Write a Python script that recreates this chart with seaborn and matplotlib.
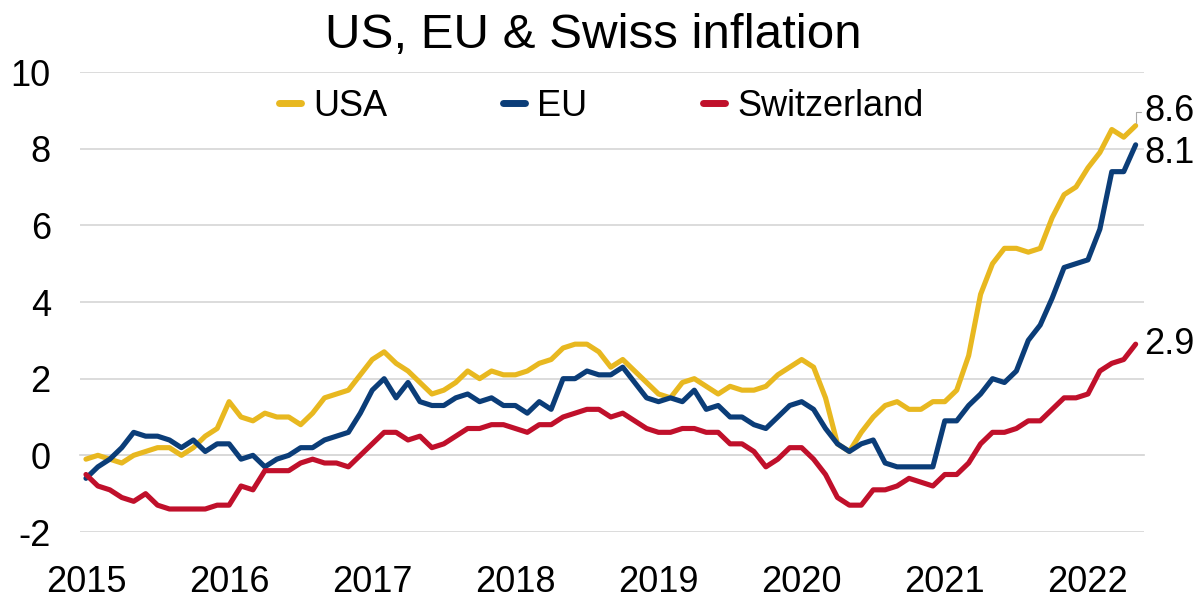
import numpy as np
import pandas as pd
import matplotlib
matplotlib.use("Agg")
import matplotlib.pyplot as plt
from matplotlib.lines import Line2D
import seaborn as sns

# ---------------- data ----------------
months = pd.date_range("2015-01-01", "2022-05-01", freq="MS")

usa = [-0.1, 0.0, -0.1, -0.2, 0.0, 0.1, 0.2, 0.2, 0.0, 0.2, 0.5, 0.7,
       1.4, 1.0, 0.9, 1.1, 1.0, 1.0, 0.8, 1.1, 1.5, 1.6, 1.7, 2.1,
       2.5, 2.7, 2.4, 2.2, 1.9, 1.6, 1.7, 1.9, 2.2, 2.0, 2.2, 2.1,
       2.1, 2.2, 2.4, 2.5, 2.8, 2.9, 2.9, 2.7, 2.3, 2.5, 2.2, 1.9,
       1.6, 1.5, 1.9, 2.0, 1.8, 1.6, 1.8, 1.7, 1.7, 1.8, 2.1, 2.3,
       2.5, 2.3, 1.5, 0.3, 0.1, 0.6, 1.0, 1.3, 1.4, 1.2, 1.2, 1.4,
       1.4, 1.7, 2.6, 4.2, 5.0, 5.4, 5.4, 5.3, 5.4, 6.2, 6.8, 7.0,
       7.5, 7.9, 8.5, 8.3, 8.6]

eu = [-0.6, -0.3, -0.1, 0.2, 0.6, 0.5, 0.5, 0.4, 0.2, 0.4, 0.1, 0.3,
      0.3, -0.1, 0.0, -0.3, -0.1, 0.0, 0.2, 0.2, 0.4, 0.5, 0.6, 1.1,
      1.7, 2.0, 1.5, 1.9, 1.4, 1.3, 1.3, 1.5, 1.6, 1.4, 1.5, 1.3,
      1.3, 1.1, 1.4, 1.2, 2.0, 2.0, 2.2, 2.1, 2.1, 2.3, 1.9, 1.5,
      1.4, 1.5, 1.4, 1.7, 1.2, 1.3, 1.0, 1.0, 0.8, 0.7, 1.0, 1.3,
      1.4, 1.2, 0.7, 0.3, 0.1, 0.3, 0.4, -0.2, -0.3, -0.3, -0.3, -0.3,
      0.9, 0.9, 1.3, 1.6, 2.0, 1.9, 2.2, 3.0, 3.4, 4.1, 4.9, 5.0,
      5.1, 5.9, 7.4, 7.4, 8.1]

swiss = [-0.5, -0.8, -0.9, -1.1, -1.2, -1.0, -1.3, -1.4, -1.4, -1.4, -1.4, -1.3,
         -1.3, -0.8, -0.9, -0.4, -0.4, -0.4, -0.2, -0.1, -0.2, -0.2, -0.3, 0.0,
         0.3, 0.6, 0.6, 0.4, 0.5, 0.2, 0.3, 0.5, 0.7, 0.7, 0.8, 0.8,
         0.7, 0.6, 0.8, 0.8, 1.0, 1.1, 1.2, 1.2, 1.0, 1.1, 0.9, 0.7,
         0.6, 0.6, 0.7, 0.7, 0.6, 0.6, 0.3, 0.3, 0.1, -0.3, -0.1, 0.2,
         0.2, -0.1, -0.5, -1.1, -1.3, -1.3, -0.9, -0.9, -0.8, -0.6, -0.7, -0.8,
         -0.5, -0.5, -0.2, 0.3, 0.6, 0.6, 0.7, 0.9, 0.9, 1.2, 1.5, 1.5,
         1.6, 2.2, 2.4, 2.5, 2.9]

series_names = ["USA", "EU", "Switzerland"]
year_labels = ["2015", "2016", "2017", "2018", "2019", "2020", "2021", "2022"]
y_ticks = [-2, 0, 2, 4, 6, 8, 10]
title = "US, EU & Swiss inflation"

# ---------------- styling ----------------
sns.set_theme(style="white")
plt.rcParams["font.family"] = ["Liberation Sans", "DejaVu Sans"]
plt.rcParams["axes.unicode_minus"] = False
plt.rcParams["text.color"] = "black"
plt.rcParams["xtick.labelcolor"] = "black"
plt.rcParams["ytick.labelcolor"] = "black"

colors = {"USA": "#E8B820", "EU": "#0B3D78", "Switzerland": "#C0102B"}
grid_color = "#d9d9d9"
fs = 26

idx = np.arange(len(months))
df = pd.DataFrame({"month": idx, "USA": usa, "EU": eu, "Switzerland": swiss})
long = df.melt(id_vars="month", var_name="series", value_name="value")

fig = plt.figure(figsize=(12, 6.03), dpi=100)
ax = fig.add_axes([80 / 1200, 1 - 532 / 603, 1064 / 1200, 460 / 603])

sns.lineplot(data=long, x="month", y="value", hue="series",
             hue_order=series_names, palette=colors, linewidth=3.7,
             ax=ax, legend=False, zorder=3)

# axes limits / grid
ax.set_xlim(-0.42, len(idx) - 1 + 0.7)
ax.set_ylim(min(y_ticks), max(y_ticks))
ax.set_yticks(y_ticks)
ax.set_yticklabels([str(t) for t in y_ticks], fontsize=fs, color="black")
ax.tick_params(axis="y", length=0, pad=21)
ax.yaxis.grid(True, color=grid_color, linewidth=1.3, zorder=0)
ax.xaxis.grid(False)
for s in ["left", "top", "right"]:
    ax.spines[s].set_visible(False)

# x axis line at zero with year boundary ticks
year_starts = [i for i, m in enumerate(months) if m.month == 1]
ax.spines["bottom"].set_position(("data", 0))
ax.spines["bottom"].set_color(grid_color)
ax.spines["bottom"].set_linewidth(1.3)
ax.set_xticks([i - 0.5 for i in year_starts])
ax.tick_params(axis="x", direction="out", length=9, width=1.2,
               color=grid_color, labelbottom=False)
ax.set_xlabel("")
ax.set_ylabel("")

# year labels at the bottom of the plot
sec = ax.secondary_xaxis(0)
sec.set_xticks(year_starts, labels=year_labels)
sec.tick_params(length=0, pad=24, labelsize=fs, labelcolor="black")
for s in sec.spines.values():
    s.set_visible(False)

# legend
handles = [Line2D([], [], color=colors[n], linewidth=5) for n in series_names]
leg = ax.legend(handles, series_names, loc="center", bbox_to_anchor=(0.49, 0.926),
                ncol=3, frameon=False, fontsize=fs, handlelength=0.6,
                handletextpad=0.35, columnspacing=3.2)
for t in leg.get_texts():
    t.set_color("black")

# end labels
offsets = {"USA": 10, "EU": -6, "Switzerland": 0}
for n in series_names:
    last = df[n].iloc[-1]
    kw = {}
    if n == "USA":
        kw["arrowprops"] = dict(arrowstyle="-", color="#aaaaaa", lw=0.8,
                                shrinkA=0, shrinkB=2,
                                connectionstyle="angle,angleA=0,angleB=90,rad=0")
    ax.annotate(f"{last:.1f}", xy=(idx[-1], last), xytext=(6, offsets[n]),
                textcoords="offset points", ha="left", va="center",
                fontsize=fs, color="black", annotation_clip=False, **kw)

fig.text(593.5 / 1200, 1 - 35 / 603, title, ha="center", va="center",
         fontsize=35.5, color="black")

fig.savefig("out.png", dpi=100)
